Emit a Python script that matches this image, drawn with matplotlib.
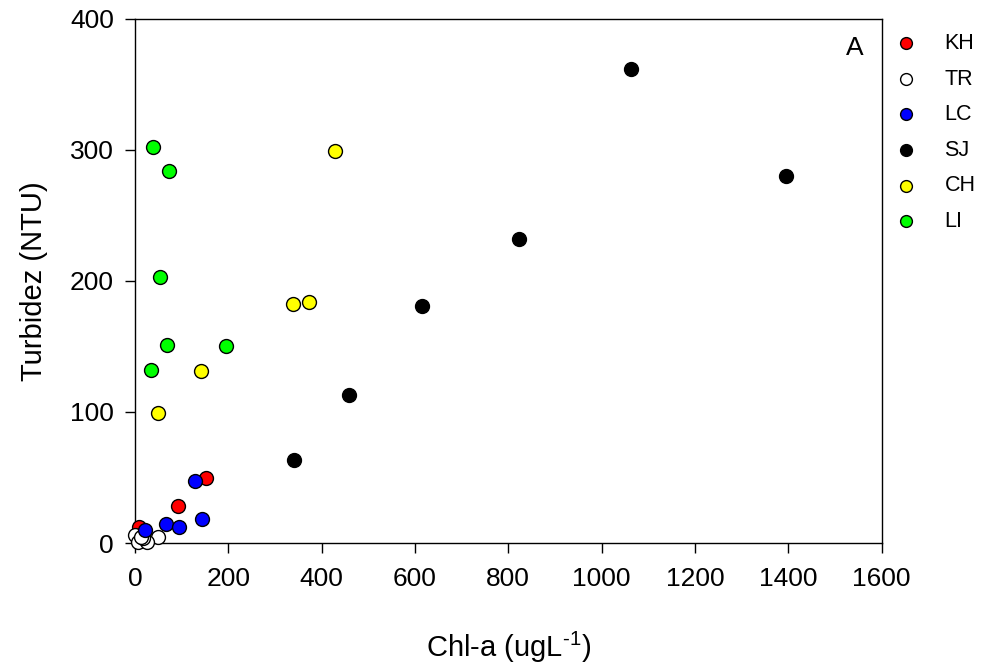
import matplotlib.pyplot as plt

plt.rcParams['font.family'] = ['Liberation Sans', 'DejaVu Sans']
plt.rcParams['mathtext.fontset'] = 'custom'
plt.rcParams['mathtext.rm'] = 'Liberation Sans'
plt.rcParams['mathtext.it'] = 'Liberation Sans'

# Chl-a (ugL-1) vs Turbidez (NTU), per site
kh_x = [152, 92, 8]
kh_y = [50, 28, 12]
tr_x = [50, 1, 7, 25, 18, 12]
tr_y = [5, 6, 1, 1, 3.5, 5]
lc_x = [128, 66, 94, 143, 21]
lc_y = [47, 14.5, 12.5, 18.5, 10]
sj_x = [1062, 1396, 822, 616, 459, 341]
sj_y = [362, 280, 232, 181, 113, 63]
ch_x = [429, 372, 338, 141, 50]
ch_y = [299, 184, 182, 131, 99]
li_x = [38, 74, 53, 69, 196, 35]
li_y = [302, 284, 203, 151, 150, 132]

series = [
    ('KH', kh_x, kh_y, '#ff0000'),
    ('TR', tr_x, tr_y, '#ffffff'),
    ('LC', lc_x, lc_y, '#0000ff'),
    ('SJ', sj_x, sj_y, '#000000'),
    ('CH', ch_x, ch_y, '#ffff00'),
    ('LI', li_x, li_y, '#00ff00'),
]

fig = plt.figure(figsize=(9.85, 6.68), dpi=100)
ax = fig.add_axes([0.137, 0.187, 0.758, 0.785])

for name, xs, ys, col in series:
    ax.scatter(xs, ys, s=100, c=col, edgecolors='black', linewidths=1.0,
               label=name, clip_on=False, zorder=3)

ax.set_xlim(0, 1600)
ax.set_ylim(0, 400)
ax.set_xticks(range(0, 1601, 200))
ax.set_yticks(range(0, 401, 100))
ax.tick_params(direction='out', length=7, width=1, labelsize=19)
ax.tick_params(axis='x', pad=10)
ax.tick_params(axis='y', pad=8)
for sp in ax.spines.values():
    sp.set_linewidth(1)

ax.set_xlabel('Chl-a (ugL$^{\\mathrm{\u2010}1}$)', fontsize=21, labelpad=28)
ax.set_ylabel('Turbidez (NTU)', fontsize=21, labelpad=16)

ax.text(0.964, 0.945, 'A', transform=ax.transAxes, fontsize=19,
        ha='center', va='center')

leg = ax.legend(loc='upper left', bbox_to_anchor=(1.018, 0.973), frameon=False,
                fontsize=15.5, markerscale=0.85, labelspacing=0.68,
                handlelength=1.0, handletextpad=1.3, borderpad=0,
                borderaxespad=0)

fig.savefig('out.png', dpi=100)
